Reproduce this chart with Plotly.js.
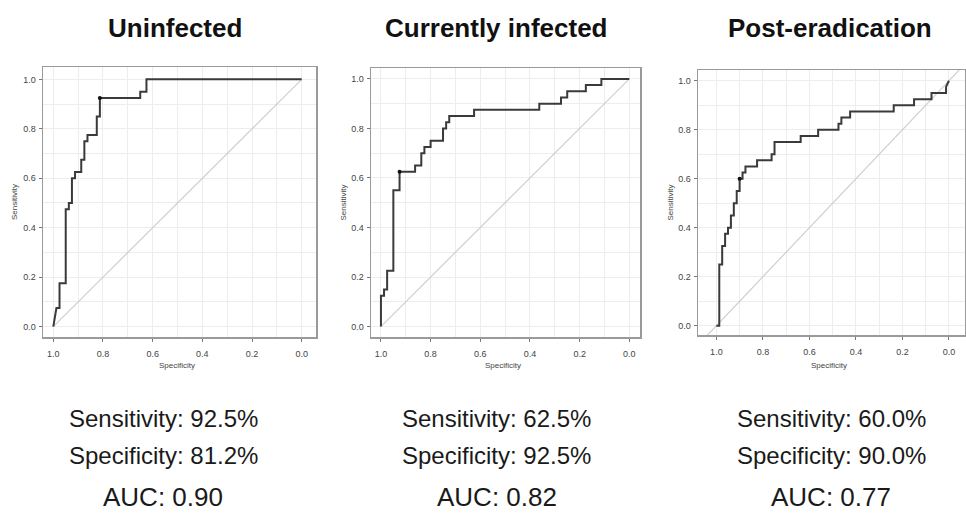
<!DOCTYPE html>
<html>
<head>
<meta charset="utf-8">
<script src="https://cdn.plot.ly/plotly-3.0.1.min.js"></script>
<style>html,body{margin:0;padding:0;background:#fff;}#chart{width:966px;height:514px;}</style>
</head>
<body>
<div id="chart"></div>
<script>
// ---- data (specificity, sensitivity corner points of each ROC curve)
const panelTitles = ["Uninfected", "Currently infected", "Post-eradication"];

const spec1 = [1, 0.9875, 0.975, 0.975, 0.95, 0.95, 0.9375, 0.9375, 0.925, 0.925, 0.9125, 0.9125, 0.8875, 0.8875, 0.875, 0.875, 0.8625, 0.8625, 0.825, 0.825, 0.8125, 0.8125, 0.65, 0.65, 0.625, 0.625, 0];
const sens1 = [0, 0.075, 0.075, 0.175, 0.175, 0.475, 0.475, 0.5, 0.5, 0.6, 0.6, 0.625, 0.625, 0.675, 0.675, 0.75, 0.75, 0.775, 0.775, 0.85, 0.85, 0.925, 0.925, 0.95, 0.95, 1, 1];

const spec2 = [1, 1, 0.9875, 0.9875, 0.975, 0.975, 0.95, 0.95, 0.925, 0.925, 0.8625, 0.8625, 0.8375, 0.8375, 0.825, 0.825, 0.8, 0.8, 0.75, 0.75, 0.7375, 0.7375, 0.725, 0.725, 0.625, 0.625, 0.3625, 0.3625, 0.275, 0.275, 0.25, 0.25, 0.175, 0.175, 0.1125, 0.1125, 0];
const sens2 = [0, 0.125, 0.125, 0.15, 0.15, 0.225, 0.225, 0.55, 0.55, 0.625, 0.625, 0.65, 0.65, 0.7, 0.7, 0.725, 0.725, 0.75, 0.75, 0.8, 0.8, 0.825, 0.825, 0.85, 0.85, 0.875, 0.875, 0.9, 0.9, 0.925, 0.925, 0.95, 0.95, 0.975, 0.975, 1, 1];

const spec3 = [1, 0.9875, 0.9875, 0.975, 0.975, 0.9625, 0.9625, 0.95, 0.95, 0.9375, 0.9375, 0.925, 0.925, 0.9125, 0.9125, 0.9, 0.9, 0.8875, 0.8875, 0.875, 0.875, 0.825, 0.825, 0.7625, 0.7625, 0.75, 0.75, 0.6375, 0.6375, 0.5625, 0.5625, 0.475, 0.475, 0.4625, 0.4625, 0.425, 0.425, 0.2375, 0.2375, 0.15, 0.15, 0.075, 0.075, 0.0125, 0.0125, 0];
const sens3 = [0, 0, 0.25, 0.25, 0.325, 0.325, 0.375, 0.375, 0.4, 0.4, 0.45, 0.45, 0.5, 0.5, 0.55, 0.55, 0.6, 0.6, 0.625, 0.625, 0.65, 0.65, 0.675, 0.675, 0.7, 0.7, 0.75, 0.75, 0.775, 0.775, 0.8, 0.8, 0.825, 0.825, 0.85, 0.85, 0.875, 0.875, 0.9, 0.9, 0.925, 0.925, 0.95, 0.95, 0.975, 1];

// best thresholds (marked points)
const bestSpec = [0.8125, 0.925, 0.9];
const bestSens = [0.925, 0.625, 0.6];

const sensitivityText = ["92.5%", "62.5%", "60.0%"];
const specificityText = ["81.2%", "92.5%", "90.0%"];
const aucText = ["0.90", "0.82", "0.77"];

const tickVals = [1.0, 0.8, 0.6, 0.4, 0.2, 0.0];

// chance diagonal (sensitivity = 1 - specificity)
const diagSpec = [[1, 0], [1, 0], [1.2, -0.2]];
const diagSens = [[0, 1], [0, 1], [-0.2, 1.2]];

// ---- layout geometry (pixels)
const W = 966, H = 514;
const boxes = [
  {l: 43, r: 316, t: 67, b: 337, xr: [1.0415, -0.0576], yr: [-0.042, 1.05]},
  {l: 371, r: 640, t: 68, b: 337, xr: [1.040, -0.043], yr: [-0.042, 1.044]},
  {l: 698, r: 965, t: 70, b: 335, xr: [1.079, -0.069], yr: [-0.038, 1.044]}
];
const titleX = [175, 497, 830];
const textX = [163, 497, 831];

const specs = [spec1, spec2, spec3];
const senss = [sens1, sens2, sens3];

const traces = [];
const layout = {
  width: W, height: H,
  margin: {l: 0, r: 0, t: 0, b: 0},
  paper_bgcolor: "#fff", plot_bgcolor: "#fff",
  showlegend: false,
  font: {family: "Liberation Sans, Arial, sans-serif", color: "#222"},
  annotations: []
};

for (let i = 0; i < 3; i++) {
  const ax = i === 0 ? "" : String(i + 1);
  const xa = "x" + ax, ya = "y" + ax;
  const b = boxes[i];
  traces.push({
    x: diagSpec[i], y: diagSens[i], xaxis: xa, yaxis: ya,
    mode: "lines", line: {color: "#cfcfcf", width: 1.2}, hoverinfo: "skip"
  });
  traces.push({
    x: specs[i], y: senss[i], xaxis: xa, yaxis: ya,
    mode: "lines", line: {color: "#3a3a3a", width: 2}
  });
  traces.push({
    x: [bestSpec[i]], y: [bestSens[i]], xaxis: xa, yaxis: ya,
    mode: "markers", marker: {color: "#111", size: 4}
  });
  const common = {
    showline: true, mirror: true, linecolor: "#9a9a9a", linewidth: 1.5,
    ticks: "outside", ticklen: 3, tickcolor: "#777", tickwidth: 1,
    tickvals: tickVals, tickformat: ".1f",
    tickfont: {size: 9, color: "#444", family: "Liberation Sans, Arial, sans-serif"},
    showgrid: true, gridcolor: "#ededed", gridwidth: 1,
    minor: {tick0: 0, dtick: 0.1, showgrid: true, gridcolor: "#ededed", ticks: ""},
    zeroline: false, fixedrange: true
  };
  layout["xaxis" + ax] = Object.assign({}, common, {
    domain: [b.l / W, b.r / W], range: b.xr, anchor: ya, ticklabelstandoff: 5
  });
  layout["yaxis" + ax] = Object.assign({}, common, {
    domain: [1 - b.b / H, 1 - b.t / H], range: b.yr, anchor: xa, ticklabelstandoff: 1
  });
  layout.annotations.push(
    {xref: "paper", yref: "paper", x: titleX[i] / W, y: 1 - 28 / H, xanchor: "center", yanchor: "middle",
     text: "<b>" + panelTitles[i] + "</b>", showarrow: false, font: {size: 26, color: "#111"}},
    {xref: "paper", yref: "paper", x: (b.l + (b.r - b.l) * 0.49) / W, y: 1 - 365 / H, xanchor: "center", yanchor: "middle",
     text: "Specificity", showarrow: false, font: {size: 8, color: "#444"}},
    {xref: "paper", yref: "paper", x: (b.l - 28) / W, y: 1 - ((b.t + b.b) / 2) / H, xanchor: "center", yanchor: "middle",
     text: "Sensitivity", textangle: -90, showarrow: false, font: {size: 8, color: "#444"}},
    {xref: "paper", yref: "paper", x: textX[i] / W, y: 1 - 418 / H, xanchor: "center", yanchor: "middle",
     text: "Sensitivity: " + sensitivityText[i], showarrow: false, font: {size: 24, color: "#1a1a1a"}},
    {xref: "paper", yref: "paper", x: textX[i] / W, y: 1 - 455 / H, xanchor: "center", yanchor: "middle",
     text: "Specificity: " + specificityText[i], showarrow: false, font: {size: 24, color: "#1a1a1a"}},
    {xref: "paper", yref: "paper", x: textX[i] / W, y: 1 - 497 / H, xanchor: "center", yanchor: "middle",
     text: "AUC: " + aucText[i], showarrow: false, font: {size: 26, color: "#1a1a1a"}}
  );
}

Plotly.newPlot("chart", traces, layout, {displayModeBar: false, staticPlot: true});
</script>
</body>
</html>
